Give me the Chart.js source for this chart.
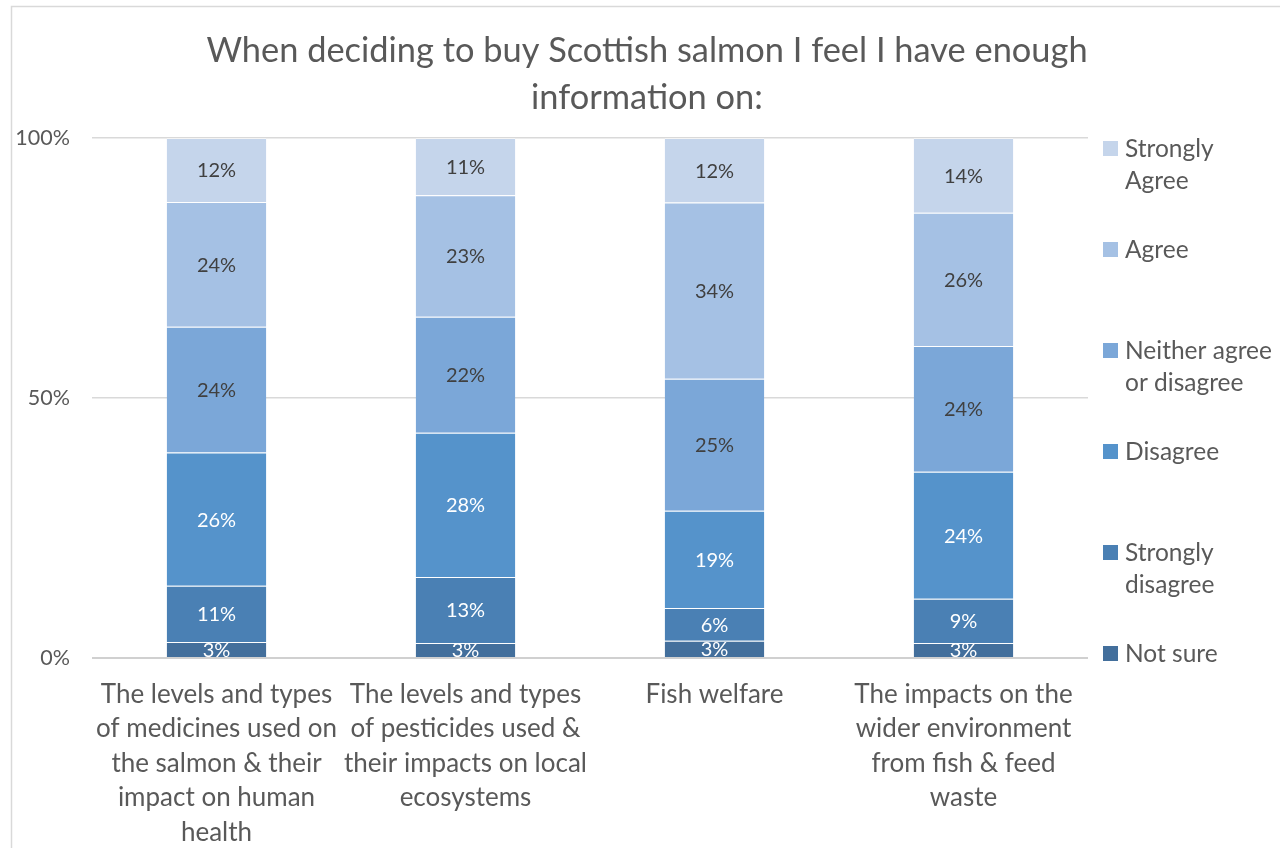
<!DOCTYPE html>
<html>
<head>
<meta charset="utf-8">
<script src="https://cdn.jsdelivr.net/npm/chart.js@4/dist/chart.umd.min.js"></script>
<style>
  html, body { margin: 0; padding: 0; background: #ffffff; overflow: hidden; }
  #wrap { width: 1280px; height: 848px; position: relative; }
</style>
</head>
<body>
<div id="wrap"><canvas id="chart" width="1280" height="848"></canvas></div>
<script>
// Survey question categories (wrapped as shown under each bar)
const categories = [
  ['The levels and types', 'of medicines used on', 'the salmon & their', 'impact on human', 'health'],
  ['The levels and types', 'of pesticides used &', 'their impacts on local', 'ecosystems'],
  ['Fish welfare'],
  ['The impacts on the', 'wider environment', 'from fish & feed', 'waste']
];

// Share of responses per answer (percent of respondents)
const notSure          = [3.1, 2.9, 3.3, 2.9];
const stronglyDisagree = [10.8, 12.7, 6.3, 8.5];
const disagree         = [25.6, 27.7, 18.7, 24.4];
const neither          = [24.2, 22.3, 25.4, 24.2];
const agree            = [24.0, 23.4, 33.9, 25.6];
const stronglyAgree    = [12.3, 11.0, 12.4, 14.4];

const seriesNames = ['Not sure', 'Strongly disagree', 'Disagree', 'Neither agree or disagree', 'Agree', 'Strongly Agree'];
// Legend text broken into lines
const legendLines = [['Not sure'], ['Strongly', 'disagree'], ['Disagree'], ['Neither agree', 'or disagree'], ['Agree'], ['Strongly', 'Agree']];

const yTicks = [0, 50, 100];

const FONT = 'Lato, "Open Sans", sans-serif';
const TEXT = '#595959';

const seriesValues = [notSure, stronglyDisagree, disagree, neither, agree, stronglyAgree];
const seriesColors = ['#436f9c', '#4a80b4', '#5593cb', '#7ba7d8', '#a5c1e4', '#c5d5eb'];
const labelColors  = ['#ffffff', '#ffffff', '#ffffff', '#404040', '#404040', '#404040'];

const datasets = seriesValues.map((vals, i) => ({
  label: seriesNames[i],
  data: vals,
  backgroundColor: seriesColors[i],
  borderColor: 'rgba(255,255,255,0.45)',
  borderWidth: { top: 1, right: 0, bottom: 0, left: 0 },
  borderSkipped: false,
  categoryPercentage: 1.0,
  barPercentage: 0.4
}));

// White card with a thin grey frame
const framePlugin = {
  id: 'frame',
  beforeDraw(chart) {
    const ctx = chart.ctx;
    ctx.save();
    ctx.fillStyle = '#ffffff';
    ctx.fillRect(0, 0, chart.width, chart.height);
    ctx.strokeStyle = '#d9d9d9';
    ctx.lineWidth = 1.5;
    ctx.strokeRect(11.5, 6.5, chart.width + 20, chart.height + 20);
    ctx.restore();
  }
};

// Percentage written in the middle of each segment
const segmentLabels = {
  id: 'segmentLabels',
  afterDatasetsDraw(chart) {
    const ctx = chart.ctx;
    ctx.save();
    ctx.font = '20px ' + FONT;
    ctx.textAlign = 'center';
    ctx.textBaseline = 'middle';
    chart.data.datasets.forEach((ds, di) => {
      const meta = chart.getDatasetMeta(di);
      meta.data.forEach((bar, i) => {
        const v = ds.data[i];
        const p = bar.getProps(['x', 'y', 'base'], true);
        ctx.fillStyle = labelColors[di];
        ctx.fillText(Math.round(v) + '%', p.x, (p.y + p.base) / 2 + 1);
      });
    });
    ctx.restore();
  }
};

// Legend on the right, entries spread over the plot height
const sideLegend = {
  id: 'sideLegend',
  afterDraw(chart) {
    const ctx = chart.ctx;
    ctx.save();
    ctx.font = '24.5px ' + FONT;
    ctx.textBaseline = 'middle';
    ctx.textAlign = 'left';
    const n = chart.data.datasets.length;
    for (let k = 0; k < n; k++) {
      const di = n - 1 - k;
      const cy = 148 + k * 101;
      ctx.fillStyle = chart.data.datasets[di].backgroundColor;
      ctx.fillRect(1103, cy - 7, 15, 15);
      ctx.fillStyle = TEXT;
      legendLines[di].forEach((line, li) => {
        ctx.fillText(line, 1125, cy + li * 32 + 1);
      });
    }
    ctx.restore();
  }
};

new Chart(document.getElementById('chart'), {
  type: 'bar',
  data: { labels: categories, datasets },
  plugins: [framePlugin, segmentLabels, sideLegend],
  options: {
    responsive: false,
    animation: false,
    layout: { padding: { left: 14, right: 0, top: 0, bottom: 0 } },
    plugins: {
      legend: { display: false },
      tooltip: { enabled: false },
      title: {
        display: true,
        text: ['When deciding to buy Scottish salmon I feel I have enough', 'information on:'],
        color: TEXT,
        font: { family: FONT, size: 34.4, weight: 'normal', lineHeight: 1.366 },
        padding: { top: 27, bottom: 17 }
      }
    },
    scales: {
      x: {
        stacked: true,
        grid: { display: false, drawTicks: false },
        border: { display: false },
        ticks: {
          color: TEXT,
          padding: 19,
          maxRotation: 0,
          autoSkip: false,
          font: { family: FONT, size: 26, lineHeight: 1.327 }
        },
        afterFit(scale) { scale.height = 190; }
      },
      y: {
        stacked: true,
        min: 0,
        max: 100,
        afterBuildTicks(scale) { scale.ticks = yTicks.map(v => ({ value: v })); },
        grid: {
          drawTicks: false,
          color: ctx => ctx.tick && ctx.tick.value === 0 ? '#d0d0d0' : '#d9d9d9',
          lineWidth: ctx => ctx.tick && ctx.tick.value === 0 ? 2 : 1.5
        },
        border: { display: false },
        ticks: {
          color: TEXT,
          padding: 22,
          font: { family: FONT, size: 21.5 },
          callback: v => v + '%'
        },
        afterFit(scale) { scale.width = 78; }
      },
      // empty right-hand band that holds the legend
      legendBand: {
        type: 'linear',
        position: 'right',
        min: 0,
        max: 1,
        grid: { display: false, drawTicks: false },
        border: { display: false },
        ticks: { display: false },
        afterFit(scale) { scale.width = 192; }
      }
    }
  }
});
</script>
</body>
</html>
